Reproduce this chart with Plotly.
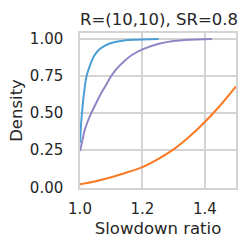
import plotly.graph_objects as go

blue_x = [1.0, 1.002, 1.005, 1.008, 1.012, 1.02, 1.03, 1.045, 1.06, 1.08, 1.1, 1.13, 1.17, 1.2, 1.252]
blue_y = [0.3, 0.38, 0.47, 0.54, 0.62, 0.74, 0.81, 0.885, 0.925, 0.955, 0.973, 0.986, 0.994, 0.997, 1.0]

purple_x = [1.0, 1.004, 1.008, 1.015, 1.025, 1.036, 1.05, 1.068, 1.085, 1.1, 1.12, 1.142, 1.165, 1.2, 1.25, 1.3, 1.35, 1.423]
purple_y = [0.245, 0.28, 0.32, 0.385, 0.445, 0.5, 0.56, 0.635, 0.695, 0.75, 0.805, 0.85, 0.89, 0.93, 0.966, 0.986, 0.995, 1.0]

orange_x = [1.0, 1.05, 1.1, 1.15, 1.2, 1.25, 1.3, 1.35, 1.4, 1.45, 1.5]
orange_y = [0.02, 0.041, 0.068, 0.1, 0.136, 0.19, 0.255, 0.34, 0.44, 0.553, 0.68]

x_ticks = [1.0, 1.2, 1.4]
x_ticklabels = ["1.0", "1.2", "1.4"]
y_ticks = [0.0, 0.25, 0.5, 0.75, 1.0]
y_ticklabels = ["0.00", "0.25", "0.50", "0.75", "1.00"]

FONT = "DejaVu Sans"
TXT = "#262626"
GRID = "#d4d4d4"

fig = go.Figure()
for xs, ys, c in [(orange_x, orange_y, "#fb7a24"),
                  (purple_x, purple_y, "#8f86c6"),
                  (blue_x, blue_y, "#4a9fd5")]:
    fig.add_trace(go.Scatter(x=xs, y=ys, mode="lines", line_shape="spline",
                             line=dict(color=c, width=2, smoothing=0.6),
                             showlegend=False, hoverinfo="skip"))

fig.update_layout(
    width=250, height=248,
    margin=dict(l=80, r=12, t=33, b=60),
    paper_bgcolor="white", plot_bgcolor="white",
    font=dict(family=FONT, color=TXT, size=15),
    title=dict(text="R=(10,10), SR=0.8", x=0.636, xanchor="center",
               y=1 - 19 / 248, yanchor="middle", yref="container",
               font=dict(size=16.5, color=TXT, family=FONT)),
)
fig.update_xaxes(range=[1.0, 1.5], tickvals=x_ticks, ticktext=x_ticklabels,
                 showgrid=True, gridcolor=GRID, gridwidth=1.5,
                 showline=True, linecolor=GRID, linewidth=1.5, mirror=True,
                 zeroline=False, ticks="", ticklabelstandoff=6,
                 tickfont=dict(size=15, family=FONT, color=TXT),
                 title=dict(text="Slowdown ratio", standoff=6,
                            font=dict(size=16.5, family=FONT, color=TXT)))
fig.update_yaxes(range=[-0.005, 1.04], tickvals=y_ticks, ticktext=y_ticklabels,
                 showgrid=True, gridcolor=GRID, gridwidth=1.5,
                 showline=True, linecolor=GRID, linewidth=1.5, mirror=True,
                 zeroline=False, ticks="", ticklabelstandoff=12,
                 tickfont=dict(size=15, family=FONT, color=TXT),
                 title=dict(text="Density", standoff=3,
                            font=dict(size=16.5, family=FONT, color=TXT)))

fig.write_html("out.html", config={"displayModeBar": False},
               post_script="document.body.style.margin='0';document.body.style.overflow='hidden';")
